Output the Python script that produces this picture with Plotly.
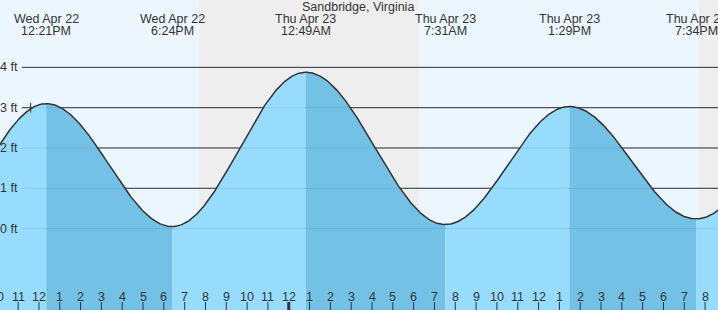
import numpy as np
import pandas as pd
import plotly.graph_objects as go

# ---------------- data ----------------
STATION = "Sandbridge, Virginia"
# tide extremes (first and last are off-chart, estimated from curve at edges)
event_times = ["2026-04-22 06:35", "2026-04-22 12:21", "2026-04-22 18:24",
               "2026-04-23 00:49", "2026-04-23 07:31", "2026-04-23 13:29",
               "2026-04-23 19:34", "2026-04-24 01:58"]
event_heights = [0.0, 3.1, 0.05, 3.88, 0.1, 3.03, 0.24, 3.5]
event_day_labels = ["", "Wed Apr 22", "Wed Apr 22", "Thu Apr 23",
                    "Thu Apr 23", "Thu Apr 23", "Thu Apr 23", ""]
event_time_labels = ["", "12:21PM", "6:24PM", "12:49AM", "7:31AM",
                     "1:29PM", "7:34PM", ""]
# night periods (sunset -> sunrise)
night_starts = ["2026-04-22 19:41", "2026-04-23 19:42"]
night_ends = ["2026-04-23 06:15", "2026-04-24 06:14"]
y_ticks = [0, 1, 2, 3, 4]
y_tick_labels = ["0 ft", "1 ft", "2 ft", "3 ft", "4 ft"]
now_time = "2026-04-22 11:36"
now_height = 3.0

# ---------------- geometry ----------------
W, H = 718, 310
PX_PER_HOUR = 20.818
x_start = pd.Timestamp("2026-04-22") + pd.Timedelta(hours=10.13)
x_end = x_start + pd.Timedelta(hours=W / PX_PER_HOUR)
Y_RANGE = [-2.02, 5.672]

FONT = "Liberation Sans, Arial, sans-serif"
TXT = "#333333"
DAY_BG = "#ebf6fe"
NIGHT_BG = "#eeeeee"
RISE = "#97dbfd"
FALL = "#73c2e6"

T = pd.to_datetime(event_times)
Hh = np.array(event_heights)
t0 = T[0]
Th = np.array([(t - t0).total_seconds() / 3600 for t in T])


def paper_x(t):
    t = pd.Timestamp(t)
    return (t - x_start) / (x_end - x_start)


# curve between extremes (cosine rendering between tide events)
def tide_curve(times):
    th = np.array([(t - t0).total_seconds() / 3600 for t in times])
    out = np.empty_like(th)
    for k, v in enumerate(th):
        i = np.searchsorted(Th, v, side="right") - 1
        i = min(max(i, 0), len(Th) - 2)
        f = (v - Th[i]) / (Th[i + 1] - Th[i])
        out[k] = Hh[i] + (Hh[i + 1] - Hh[i]) * (1 - np.cos(np.pi * f)) / 2
    return out

fig = go.Figure()

# water fills, per segment
for i in range(len(T) - 1):
    a = max(T[i], x_start - pd.Timedelta(minutes=10))
    b = min(T[i + 1], x_end + pd.Timedelta(minutes=10))
    if a >= b:
        continue
    ts = pd.date_range(a, b, periods=120)
    hs = tide_curve(ts)
    xs = list(ts) + list(ts[::-1])
    ys = list(hs) + [Y_RANGE[0] - 1] * len(ts)
    fig.add_trace(go.Scatter(x=xs, y=ys, fill="toself", mode="lines",
                             line=dict(width=0), fillcolor=RISE if Hh[i + 1] > Hh[i] else FALL,
                             hoverinfo="skip", showlegend=False))

ts = pd.date_range(x_start - pd.Timedelta(minutes=10), x_end + pd.Timedelta(minutes=10), freq="2min")
fig.add_trace(go.Scatter(x=ts, y=tide_curve(ts), mode="lines",
                         line=dict(color="#333333", width=1.5),
                         hoverinfo="skip", showlegend=False))

shapes = []
for s, e in zip(night_starts, night_ends):
    shapes.append(dict(type="rect", xref="x", yref="paper", x0=s, x1=e, y0=0, y1=1,
                       fillcolor=NIGHT_BG, line=dict(width=0), layer="below"))
for yv in y_ticks:
    shapes.append(dict(type="line", xref="paper", yref="y", x0=22 / W, x1=1, y0=yv, y1=yv,
                       line=dict(color="#333333", width=1), layer="below"))
    shapes.append(dict(type="line", xref="paper", yref="y", x0=22 / W, x1=1, y0=yv, y1=yv,
                       line=dict(color="rgba(0,60,110,0.10)", width=1), layer="above"))
# current-time marker
shapes.append(dict(type="line", xref="x", yref="y", x0=now_time, x1=now_time,
                   y0=now_height - 0.12, y1=now_height + 0.12,
                   line=dict(color="#333333", width=1)))

annotations = []
annotations.append(dict(text=STATION, xref="paper", yref="paper", x=358 / W, y=1 - 7 / H,
                        showarrow=False, font=dict(family=FONT, size=12.5, color=TXT),
                        xanchor="center", yanchor="middle"))
for t, d, tl in zip(event_times, event_day_labels, event_time_labels):
    if not d:
        continue
    annotations.append(dict(text=d, xref="paper", yref="paper", x=paper_x(t), y=1 - 19 / H,
                            showarrow=False, font=dict(family=FONT, size=12.5, color=TXT),
                            xanchor="center", yanchor="middle"))
    annotations.append(dict(text=tl, xref="paper", yref="paper", x=paper_x(t), y=1 - 31.5 / H,
                            showarrow=False, font=dict(family=FONT, size=12.5, color=TXT),
                            xanchor="center", yanchor="middle"))
for yv, lab in zip(y_ticks, y_tick_labels):
    annotations.append(dict(text=lab, xref="paper", yref="y", x=20 / W, y=yv,
                            showarrow=False, font=dict(family=FONT, size=12.5, color=TXT),
                            xanchor="right", yanchor="middle", xshift=0))

# hour ticks
hours = pd.date_range(x_start.floor("h"), x_end.floor("h"), freq="h")
for hr in hours:
    lab = str(hr.hour % 12 if hr.hour % 12 else 12)
    annotations.append(dict(text=lab, xref="paper", yref="paper", x=paper_x(hr), y=1 - 296.5 / H,
                            showarrow=False, font=dict(family=FONT, size=12.5, color=TXT),
                            xanchor="center", yanchor="middle"))
    shapes.append(dict(type="line", xref="x", yref="paper", x0=hr, x1=hr,
                       y0=0, y1=8 / H,
                       line=dict(color="#333333", width=3 if hr.hour == 0 else 1)))

fig.update_layout(
    width=W, height=H, margin=dict(l=0, r=0, t=0, b=0),
    paper_bgcolor=DAY_BG, plot_bgcolor=DAY_BG,
    xaxis=dict(type="date", range=[x_start, x_end], visible=False, fixedrange=True),
    yaxis=dict(range=Y_RANGE, visible=False, fixedrange=True),
    shapes=shapes, annotations=annotations, showlegend=False,
)
fig.write_html("out.html")
